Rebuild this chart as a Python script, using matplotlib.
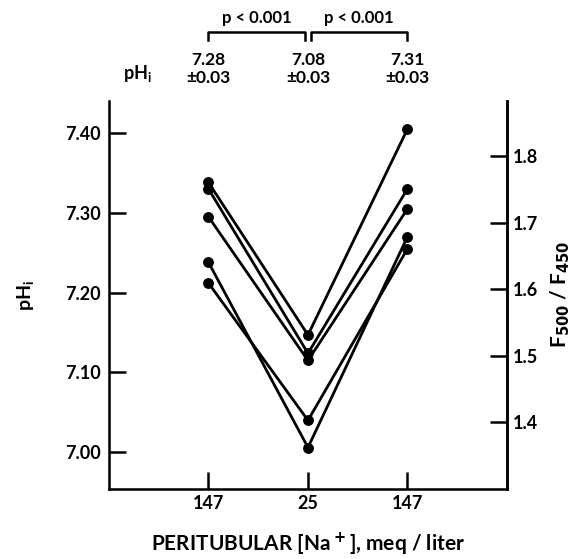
import matplotlib
matplotlib.use('Agg')
import matplotlib.pyplot as plt
import matplotlib.transforms as mtransforms

# =====================================================================
# DATA
# =====================================================================
na_labels = ['147', '25', '147']
x_pos = [1, 2, 3]

# pHi per tubule (147 -> 25 -> 147 meq/liter)
tubule_1 = [7.338, 7.147, 7.405]
tubule_2 = [7.330, 7.124, 7.330]
tubule_3 = [7.295, 7.115, 7.305]
tubule_4 = [7.238, 7.006, 7.270]
tubule_5 = [7.212, 7.040, 7.255]
tubules = [tubule_1, tubule_2, tubule_3, tubule_4, tubule_5]

mean_labels = ['7.28', '7.08', '7.31']
sem_labels = ['\u00b10.03', '\u00b10.03', '\u00b10.03']
p_labels = ['p < 0.001', 'p < 0.001']

left_ticks = [7.00, 7.10, 7.20, 7.30, 7.40]
right_ticks = [1.4, 1.5, 1.6, 1.7, 1.8]

# linear calibration pHi -> F500/F450
def ph_to_ratio(ph):
    return 1.4 + 1.2 * (ph - 7.0375)

plt.rcParams['font.family'] = ['Lato', 'DejaVu Sans']
plt.rcParams['font.weight'] = 'bold'
plt.rcParams['axes.labelweight'] = 'bold'
plt.rcParams['mathtext.default'] = 'bf'

fig = plt.figure(figsize=(5.84, 5.59), dpi=100)
ax = fig.add_axes([0.1866, 0.1252, 0.6815, 0.694])

for t in tubules:
    ax.plot(x_pos, t, color='black', lw=2.0, marker='o', ms=6.8, zorder=3)

ax.set_xlim(0, 4)
ax.set_ylim(6.954, 7.44)
ax.set_xticks(x_pos)
ax.set_xticklabels(na_labels, fontweight='bold')
ax.set_yticks(left_ticks)
ax.set_yticklabels([f'{v:.2f}' for v in left_ticks], fontweight='bold')

ax.spines['top'].set_visible(False)
for s in ['left', 'right', 'bottom']:
    ax.spines[s].set_linewidth(1.8)
ax.tick_params(axis='both', direction='in', length=12, width=1.8, labelsize=13)
ax.tick_params(axis='y', pad=6)
ax.tick_params(axis='x', pad=4)

# right axis: fluorescence ratio
ax2 = ax.twinx()
lo, hi = ax.get_ylim()
ax2.set_ylim(ph_to_ratio(lo), ph_to_ratio(hi))
ax2.set_yticks(right_ticks)
ax2.set_yticklabels([f'{v:.1f}' for v in right_ticks], fontweight='bold')
ax2.spines['top'].set_visible(False)
ax2.spines['right'].set_linewidth(1.8)
ax2.tick_params(axis='y', direction='in', length=12, width=1.8, labelsize=13, pad=4)

ax.set_ylabel('pH$_\\mathregular{i}$', fontsize=14, labelpad=20)
ax2.set_ylabel('F$_{500}$ / F$_{450}$', fontsize=15, labelpad=8)
ax.set_xlabel('PERITUBULAR [Na$^+$], meq / liter', fontsize=15, labelpad=14)

# means and significance brackets above the axes
trans = mtransforms.blended_transform_factory(ax.transData, ax.transAxes)
ax.text(0.29, 1.07, 'pH$_\\mathregular{i}$', transform=trans, fontsize=13,
        ha='center', va='center', fontweight='bold')
for xp, m, s in zip(x_pos, mean_labels, sem_labels):
    ax.text(xp, 1.105, m, transform=trans, fontsize=12.5, ha='center',
            va='center', fontweight='bold')
    ax.text(xp, 1.06, s, transform=trans, fontsize=12.5, ha='center',
            va='center', fontweight='bold')

for i, p in enumerate(p_labels):
    x0 = x_pos[i] + (0.0 if i == 0 else 0.03)
    x1 = x_pos[i + 1] - (0.03 if i == 0 else 0.0)
    ax.plot([x0, x0, x1, x1], [1.157, 1.178, 1.178, 1.157], transform=trans,
            color='black', lw=1.8, clip_on=False)
    ax.text((x0 + x1) / 2, 1.213, p, transform=trans, fontsize=12,
            ha='center', va='center', fontweight='bold')

plt.savefig('out.png', dpi=100)
